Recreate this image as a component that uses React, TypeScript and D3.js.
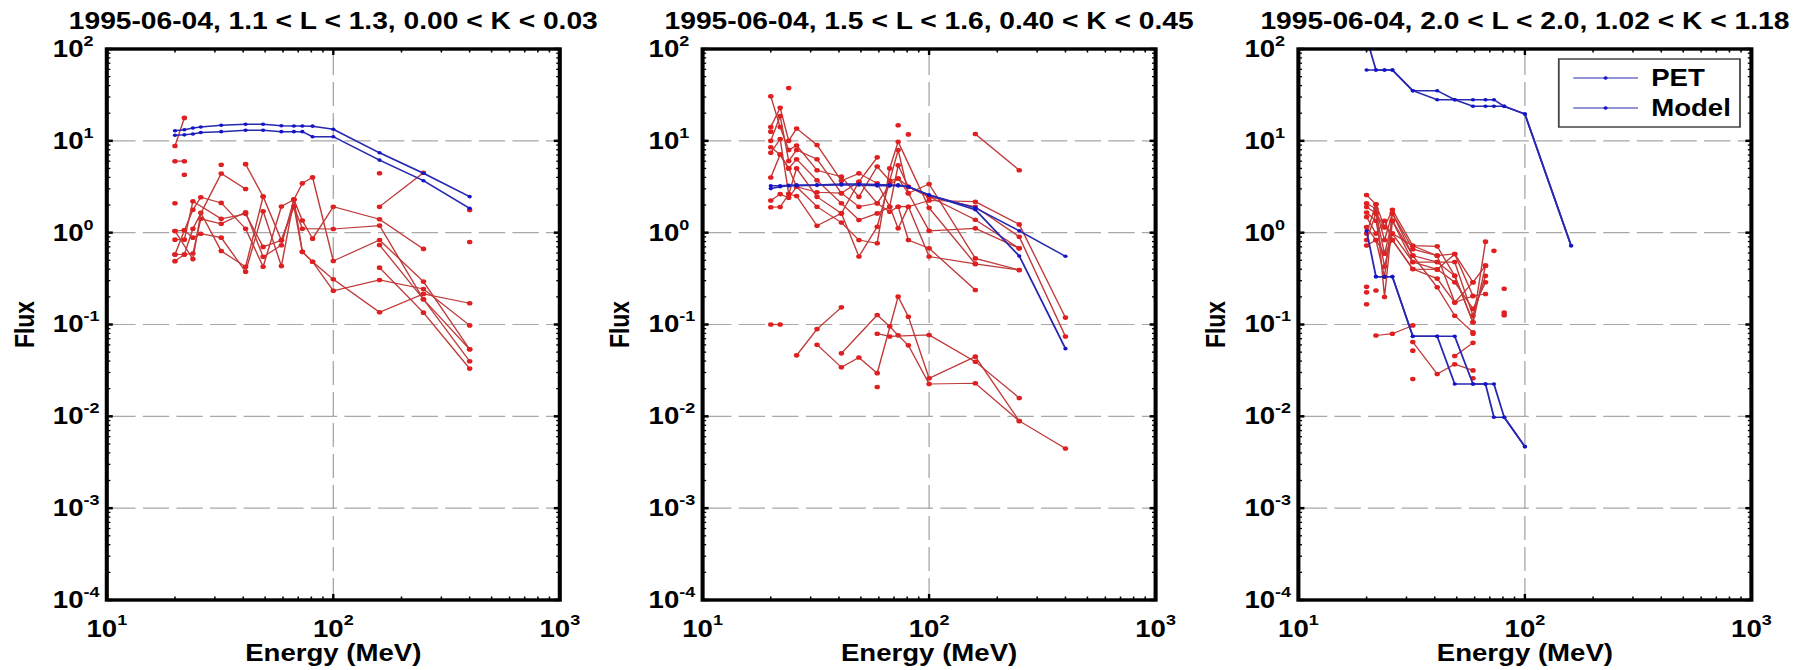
import React from 'react';
import * as d3 from 'd3';

// ---------- data (log10 of flux, one value per energy channel, null = missing) ----------
const ENERGY = [20, 22, 24, 26, 32, 41, 49, 59, 67, 73, 81, 100, 160, 250, 400];
const _ = null;

const TITLES = [
  '1995-06-04, 1.1 < L < 1.3, 0.00 < K < 0.03',
  '1995-06-04, 1.5 < L < 1.6, 0.40 < K < 0.45',
  '1995-06-04, 2.0 < L < 2.0, 1.02 < K < 1.18',
];

const X_TICKS = [10, 100, 1000];
const Y_TICKS = [1e-4, 1e-3, 1e-2, 1e-1, 1e0, 1e1, 1e2];
const LEGEND_LABELS = ['PET', 'Model'];

// Panel 1
const p1Blue = [
  [1.11, 1.12, 1.14, 1.15, 1.17, 1.18, 1.18, 1.165, 1.162, 1.162, 1.16, 1.126, 0.87, 0.647, 0.392],
  [1.06, 1.065, 1.075, 1.09, 1.1, 1.115, 1.115, 1.1, 1.1, 1.1, 1.045, 1.045, 0.79, 0.566, 0.265],
];
const p1Red = [
  [-0.31, -0.238, -0.227, 0.151, 0.097, 0.223, -0.263, -0.137, 0.36, -0.209, -0.317, -0.632, -0.515, -0.613, -1.01],
  [0.018, 0.025, 0.249, 0.386, 0.324, 0.043, -0.371, 0.285, 0.36, 0.133, -0.065, 0.283, 0.146, -0.177, _],
  [-0.076, -0.076, 0.342, _, 0.151, 0.205, -0.155, -0.083, 0.285, 0.043, _, 0.04, 0.077, -0.725, -1.4],
  [-0.238, 0.025, -0.054, -0.011, -0.054, -0.425, 0.234, -0.364, 0.36, 0.537, 0.602, -0.308, -0.08, -0.533, -1.27],
  [0.018, _, -0.288, 0.216, -0.2, -0.371, 0.393, -0.083, 0.285, -0.209, -0.317, -0.508, -0.867, -0.667, -0.769],
  [-0.238, -0.238, 0.043, _, 0.645, 0.476, _, _, _, _, _, _, _, _, _],
  [0.944, 1.25, _, _, _, _, _, _, _, _, _, _, _, _, _],
  [0.778, 0.778, _, _, _, _, _, _, _, _, _, _, _, _, _],
  [_, _, _, _, _, 0.746, 0.393, _, _, _, _, _, _, _, _],
  [_, _, _, _, _, _, _, _, _, _, _, _, 0.283, 0.653, _],
  [_, _, _, _, _, _, _, _, _, _, _, _, -0.381, -0.871, -1.48],
  [_, _, _, _, _, _, _, _, _, _, _, _, -0.134, -0.725, -1.27],
];
const p1DotE = [22, 20, 32, 160, 400, 400];
const p1DotV = [0.63, 0.32, 0.739, 0.647, 0.247, -0.101];

// Panel 2
const p2Blue = [
  [0.51, 0.51, 0.515, 0.52, 0.52, 0.53, 0.53, 0.525, 0.52, 0.52, 0.5, 0.41, 0.27, 0.02, -0.257],
  [0.48, 0.5, 0.51, 0.51, 0.515, 0.52, 0.52, 0.51, 0.51, 0.51, 0.5, 0.41, 0.25, -0.254, -1.263],
];
const p2Red = [
  [1.485, 1.15, 0.9, 0.95, 0.68, 0.61, 0.39, 0.72, 0.566, 0.59, 0.43, 0.53, -0.28, -0.406, _],
  [1.15, 1.36, 1.0, 1.135, 0.955, 0.566, 0.646, 0.537, 0.283, 0.733, 0.5, 0.39, 0.283, -0.044, -1.13],
  [1.0, 1.27, 0.78, 0.9, 0.8, 0.43, 0.283, 0.32, 0.229, 0.283, -0.08, -0.17, -0.624, _, _],
  [0.93, 0.85, 0.7, 0.8, 0.57, 0.32, 0.138, 0.21, 0.283, 0.047, 0.283, 0.35, 0.337, 0.09, -0.925],
  [0.87, 1.02, 0.42, 0.7, 0.39, 0.21, -0.26, 0.065, 0.566, 0.9, 0.43, 0.02, 0.047, -0.17, _],
  [0.35, 0.42, 0.38, 0.5, 0.283, 0.11, -0.08, -0.116, 0.7, 0.99, _, 0.27, -0.34, -0.406, _],
  [0.277, 0.28, 0.42, 0.4, 0.076, 0.21, 0.555, 0.82, _, _, _, _, _, _, _],
  [0.6, 0.85, 0.7, 0.5, 0.44, 0.43, 0.555, 0.32, 0.52, 0.59, 0.5, 0.39, 0.14, -0.17, _],
  [_, _, _, _, _, _, _, _, _, 0.283, 0.283, -0.26, -0.34, _, _],
  [_, _, _, _, _, _, _, _, _, _, _, _, 1.074, 0.68, _],
  [-1.0, -1.0, _, _, _, _, _, _, _, _, _, _, _, _, _],
  [_, _, _, -1.336, -1.05, -0.813, _, _, _, _, _, _, _, _, _],
  [_, _, _, _, -1.22, -1.466, -1.36, -1.53, _, -0.697, -0.915, -1.586, -1.35, -2.05, -2.35],
  [_, _, _, _, _, -1.314, _, -0.897, -1.02, -1.118, -1.227, -1.648, -1.64, -2.05, _],
  [_, _, _, _, _, _, _, -1.1, -1.13, _, _, -1.114, -1.405, -1.8, _],
];
const p2DotE = [24, 73, 81, 20, 59];
const p2DotV = [1.575, 1.17, 1.07, 1.1, -1.68];

// Panel 3
const p3Blue = [
  [1.771, 1.771, 1.771, 1.771, 1.546, 1.546, 1.448, 1.448, 1.448, 1.448, 1.376, 1.292, -0.142, _, _],
  [2.12, 1.771, 1.771, 1.771, 1.546, 1.448, 1.448, 1.376, 1.376, 1.376, 1.376, 1.292, -0.142, _, _],
  [0.02, -0.479, -0.479, -0.479, -1.129, -1.129, -1.648, -1.648, -1.648, -2.01, -2.01, -2.33, _, _, _],
  [_, -0.479, -0.479, -0.479, -1.129, -1.129, -1.129, -1.648, -1.648, -1.648, -2.01, -2.33, _, _, _],
];
const p3Red = [
  [0.41, 0.31, 0.06, 0.25, -0.142, -0.149, -0.47, -0.976, -0.098, _, _, _, _, _, _],
  [0.32, 0.26, -0.08, 0.21, -0.18, -0.25, -0.232, -0.54, -0.359, _, _, _, _, _, _],
  [0.28, 0.21, -0.23, 0.13, -0.25, -0.32, -0.32, -0.904, -0.47, _, _, _, _, _, _],
  [0.22, 0.13, -0.37, -0.01, -0.32, -0.4, -0.54, -0.83, -0.54, _, _, _, _, _, _],
  [0.17, -0.01, 0.13, -0.08, -0.396, -0.5, -0.76, -0.69, -0.668, _, _, _, _, _, _],
  [0.06, -0.08, -0.48, 0.21, -0.25, -0.595, -0.904, -1.085, _, _, _, _, _, _, _],
  [-0.01, 0.31, -0.7, 0.13, -0.32, -0.32, -0.47, -0.976, -0.359, _, _, _, _, _, _],
  [-0.08, 0.21, 0.06, -0.01, -0.142, -0.25, -0.76, -0.54, _, _, _, _, _, _, _],
  [-0.14, -0.08, -0.23, -0.08, -0.396, -0.4, -0.232, -0.69, _, _, _, _, _, _, _],
  [_, -1.12, _, -1.1, -1.01, _, _, _, _, _, _, _, _, _, _],
  [_, _, _, _, -1.19, -1.539, -1.433, -1.5, _, _, _, _, _, _, _],
  [_, _, _, _, _, _, -1.343, -1.2, _, _, _, _, _, _, _],
];
const p3DotE = [20, 20, 20, 22, 32, 32, 59, 59, 73, 81, 81, 81];
const p3DotV = [-0.59, -0.65, -0.78, -0.63, -1.285, -1.594, -1.1, -1.586, -0.198, -0.61, -0.87, -0.9];

// ---------- layout ----------
const SX = 1.2; // the picture is stretched horizontally
const W = 1801;
const H = 670;
const PANEL_LEFT = [89, 585.5, 1082];
const PANEL_W = 377.5;
const TOP = 49;
const BOTTOM = 600;
const FONT = "'Liberation Sans', Arial, Helvetica, sans-serif";
const RED_LINE = '#c03a3a';
const RED_DOT = '#e02020';
const BLUE_LINE = '#2828b0';
const BLUE_DOT = '#1414c8';

type Pt = [number, number];

function toPts(s: (number | null)[]): Pt[] {
  const out: Pt[] = [];
  s.forEach((v, i) => {
    if (v !== null && v !== undefined) out.push([ENERGY[i], Math.pow(10, v)]);
  });
  return out;
}

function expLabel(v: number) {
  return String(Math.round(Math.log10(v)));
}

function Panel(props: {
  idx: number;
  blue: (number | null)[][];
  red: (number | null)[][];
  dotE: number[];
  dotV: number[];
  legend?: boolean;
}) {
  const { idx, blue, red, dotE, dotV, legend } = props;
  const left = PANEL_LEFT[idx];
  const right = left + PANEL_W;
  const x = d3.scaleLog().domain([10, 1000]).range([left, right]);
  const y = d3.scaleLog().domain([1e-4, 1e2]).range([BOTTOM, TOP]);
  const line = d3
    .line<Pt>()
    .x((d) => x(d[0]))
    .y((d) => y(d[1]));

  const minorX: number[] = [];
  [10, 100].forEach((d) => {
    for (let k = 2; k <= 9; k++) minorX.push(k * d);
  });
  const minorY: number[] = [];
  for (let e = -4; e < 2; e++) {
    for (let k = 2; k <= 9; k++) minorY.push(k * Math.pow(10, e));
  }
  const clipId = `clip${idx}`;
  const gridY = Y_TICKS.filter((v) => v > 1e-4 && v < 1e2);

  return (
    <g>
      <defs>
        <clipPath id={clipId}>
          <rect x={left} y={TOP} width={PANEL_W} height={BOTTOM - TOP} />
        </clipPath>
      </defs>
      {/* grid */}
      {gridY.map((v) => (
        <line
          key={'gy' + v}
          x1={left + 2}
          x2={right - 2}
          y1={y(v)}
          y2={y(v)}
          stroke="#a8a8a8"
          strokeWidth={1.1}
          strokeDasharray="22 6"
        />
      ))}
      <line
        x1={x(100)}
        x2={x(100)}
        y1={TOP + 2}
        y2={BOTTOM - 2}
        stroke="#a0a0a0"
        strokeWidth={1}
        strokeDasharray="24 7"
      />
      {/* data */}
      <g clipPath={`url(#${clipId})`}>
        {red.map((s, i) => {
          const pts = toPts(s);
          return (
            <g key={'r' + i}>
              {pts.length > 1 && (
                <path d={line(pts) || ''} fill="none" stroke={RED_LINE} strokeWidth={1.2} />
              )}
              {pts.map((p, j) => (
                <circle key={j} cx={x(p[0])} cy={y(p[1])} r={2.3} fill={RED_DOT} />
              ))}
            </g>
          );
        })}
        {dotE.map((e, i) => (
          <circle key={'d' + i} cx={x(e)} cy={y(Math.pow(10, dotV[i]))} r={2.3} fill={RED_DOT} />
        ))}
        {blue.map((s, i) => {
          const pts = toPts(s);
          return (
            <g key={'b' + i}>
              <path d={line(pts) || ''} fill="none" stroke={BLUE_LINE} strokeWidth={1.5} />
              {pts.map((p, j) => (
                <circle key={j} cx={x(p[0])} cy={y(p[1])} r={1.8} fill={BLUE_DOT} />
              ))}
            </g>
          );
        })}
      </g>
      {/* ticks */}
      {minorX.map((v) => (
        <g key={'mx' + v}>
          <line x1={x(v)} x2={x(v)} y1={BOTTOM} y2={BOTTOM - 3.5} stroke="#000" strokeWidth={1.3} />
          <line x1={x(v)} x2={x(v)} y1={TOP} y2={TOP + 3.5} stroke="#000" strokeWidth={1.3} />
        </g>
      ))}
      {X_TICKS.map((v) => (
        <g key={'Mx' + v}>
          <line x1={x(v)} x2={x(v)} y1={BOTTOM} y2={BOTTOM - 6} stroke="#000" strokeWidth={2} />
          <line x1={x(v)} x2={x(v)} y1={TOP} y2={TOP + 6} stroke="#000" strokeWidth={2} />
        </g>
      ))}
      {minorY.map((v) => (
        <g key={'my' + v}>
          <line x1={left} x2={left + 3} y1={y(v)} y2={y(v)} stroke="#000" strokeWidth={1.3} />
          <line x1={right} x2={right - 3} y1={y(v)} y2={y(v)} stroke="#000" strokeWidth={1.3} />
        </g>
      ))}
      {Y_TICKS.map((v) => (
        <g key={'My' + v}>
          <line x1={left} x2={left + 5} y1={y(v)} y2={y(v)} stroke="#000" strokeWidth={2.5} />
          <line x1={right} x2={right - 5} y1={y(v)} y2={y(v)} stroke="#000" strokeWidth={2.5} />
        </g>
      ))}
      {/* frame */}
      <rect x={left} y={TOP} width={PANEL_W} height={BOTTOM - TOP} fill="none" stroke="#000" strokeWidth={3.4} />
      {/* tick labels */}
      {Y_TICKS.map((v) => (
        <text
          key={'yl' + v}
          x={left - 45}
          y={y(v) + 8}
          fontFamily={FONT}
          fontWeight="bold"
          fontSize={23}
          fill="#000"
        >
          10
          <tspan fontSize={15} dy={-11}>
            {expLabel(v)}
          </tspan>
        </text>
      ))}
      {X_TICKS.map((v) => (
        <text
          key={'xl' + v}
          x={x(v)}
          y={637}
          textAnchor="middle"
          fontFamily={FONT}
          fontWeight="bold"
          fontSize={23}
          fill="#000"
        >
          10
          <tspan fontSize={15} dy={-12}>
            {expLabel(v)}
          </tspan>
        </text>
      ))}
      {/* titles and axis labels */}
      <text
        x={(left + right) / 2}
        y={29}
        textAnchor="middle"
        fontFamily={FONT}
        fontWeight="bold"
        fontSize={23.5}
        fill="#000"
      >
        {TITLES[idx]}
      </text>
      <text
        x={(left + right) / 2}
        y={661}
        textAnchor="middle"
        fontFamily={FONT}
        fontWeight="bold"
        fontSize={23}
        fill="#000"
      >
        Energy (MeV)
      </text>
      <text
        transform={`translate(${left - 61},${(TOP + BOTTOM) / 2}) rotate(-90)`}
        textAnchor="middle"
        fontFamily={FONT}
        fontWeight="bold"
        fontSize={23}
        fill="#000"
      >
        Flux
      </text>
      {legend && (
        <g>
          <rect x={1299} y={59} width={151} height={68} fill="#fff" stroke="#444" strokeWidth={1.5} />
          {LEGEND_LABELS.map((lab, i) => {
            const ly = 78 + i * 30;
            return (
              <g key={lab}>
                <line x1={1311} x2={1365} y1={ly} y2={ly} stroke={BLUE_LINE} strokeWidth={1.2} />
                <circle cx={1338} cy={ly} r={1.7} fill={BLUE_DOT} />
                <text x={1376} y={ly + 8} fontFamily={FONT} fontWeight="bold" fontSize={23} fill="#000">
                  {lab}
                </text>
              </g>
            );
          })}
        </g>
      )}
    </g>
  );
}

export default function App() {
  return (
    <svg
      width={W}
      height={H}
      viewBox={`0 0 ${W} ${H}`}
      style={{ position: 'absolute', left: 0, top: 0, background: '#fff' }}
    >
      <rect x={0} y={0} width={W} height={H} fill="#fff" />
      <g transform={`scale(${SX},1)`}>
        <Panel idx={0} blue={p1Blue} red={p1Red} dotE={p1DotE} dotV={p1DotV} />
        <Panel idx={1} blue={p2Blue} red={p2Red} dotE={p2DotE} dotV={p2DotV} />
        <Panel idx={2} blue={p3Blue} red={p3Red} dotE={p3DotE} dotV={p3DotV} legend />
      </g>
    </svg>
  );
}
